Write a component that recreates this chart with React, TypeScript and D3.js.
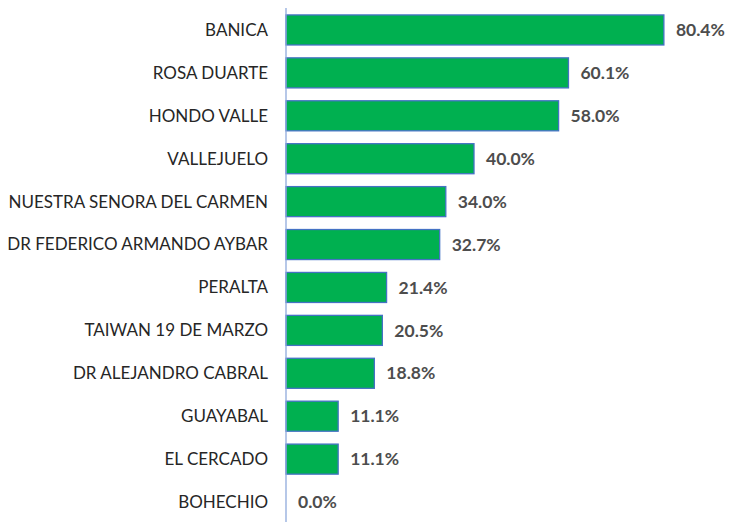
import React, { useEffect, useRef } from 'react';
import * as d3 from 'd3';

const categories = [
  'BANICA',
  'ROSA DUARTE',
  'HONDO VALLE',
  'VALLEJUELO',
  'NUESTRA SENORA DEL CARMEN',
  'DR FEDERICO ARMANDO AYBAR',
  'PERALTA',
  'TAIWAN 19 DE MARZO',
  'DR ALEJANDRO CABRAL',
  'GUAYABAL',
  'EL CERCADO',
  'BOHECHIO',
];
const values = [80.4, 60.1, 58.0, 40.0, 34.0, 32.7, 21.4, 20.5, 18.8, 11.1, 11.1, 0.0];

const W = 729;
const H = 522;

const App = () => {
  const ref = useRef<SVGGElement>(null);

  useEffect(() => {
    const x = d3.scaleLinear().domain([0, 90]).range([286, 286 + 423]);
    const y = d3
      .scaleBand<string>()
      .domain(categories)
      .range([8.5, 523.5])
      .paddingInner(0.3)
      .paddingOuter(0.15);

    const g = d3.select(ref.current);
    g.selectAll('*').remove();

    const data = categories.map((c, i) => ({ c, v: values[i] }));

    // bars
    g.selectAll('rect.bar')
      .data(data.filter(d => d.v > 0))
      .enter()
      .append('rect')
      .attr('class', 'bar')
      .attr('x', x(0))
      .attr('y', d => y(d.c)!)
      .attr('width', d => x(d.v) - x(0))
      .attr('height', y.bandwidth())
      .attr('fill', '#00b050')
      .attr('stroke', '#4472c4')
      .attr('stroke-width', 1.3);

    // axis line
    g.append('line')
      .attr('x1', x(0))
      .attr('x2', x(0))
      .attr('y1', 8)
      .attr('y2', H)
      .attr('stroke', '#8faadc')
      .attr('stroke-width', 1.3);

    // category labels
    g.selectAll('text.cat')
      .data(data)
      .enter()
      .append('text')
      .attr('class', 'cat')
      .attr('x', x(0) - 18)
      .attr('y', d => y(d.c)! + y.bandwidth() / 2)
      .attr('dy', '0.35em')
      .attr('text-anchor', 'end')
      .attr('font-family', 'Lato, "Open Sans", sans-serif')
      .attr('font-size', 17)
      .attr('fill', '#262626')
      .text(d => d.c);

    // value labels
    g.selectAll('text.val')
      .data(data)
      .enter()
      .append('text')
      .attr('class', 'val')
      .attr('x', d => x(d.v) + 12)
      .attr('y', d => y(d.c)! + y.bandwidth() / 2)
      .attr('dy', '0.35em')
      .attr('font-family', 'Lato, "Open Sans", sans-serif')
      .attr('font-weight', 'bold')
      .attr('font-size', 17.5)
      .attr('fill', '#4d4d4d')
      .text(d => d.v.toFixed(1) + '%');
  }, []);

  return (
    <svg width={W} height={H} style={{ position: 'absolute', left: 0, top: 0, background: '#fff' }}>
      <g ref={ref} />
    </svg>
  );
};

export default App;
